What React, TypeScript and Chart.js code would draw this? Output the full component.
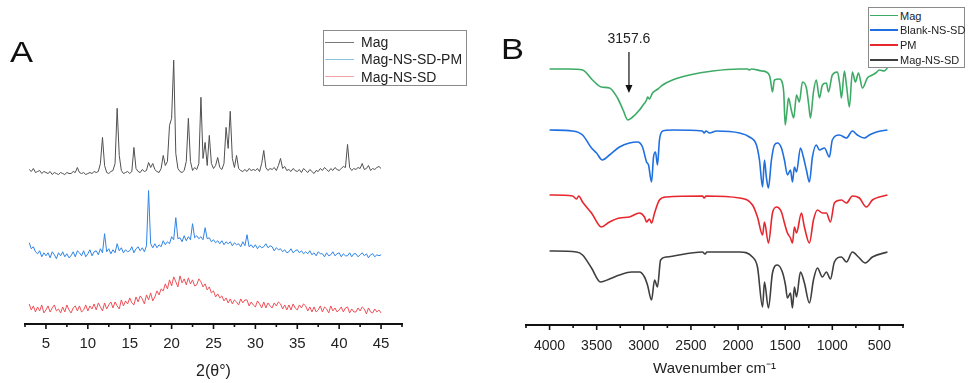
import React, { useEffect, useRef } from "react";
import { Chart, registerables } from "chart.js";
Chart.register(...registerables);

const FONT = '"Liberation Sans", Arial, Helvetica, sans-serif';

// ---------- Panel A : XRD ----------
const twoTheta = [
  3, 3.25, 3.5, 3.75, 4, 4.25, 4.5, 4.75, 5, 5.25, 5.5, 5.75, 6, 6.25, 6.5, 6.75,
  7, 7.25, 7.5, 7.75, 8, 8.25, 8.5, 8.75, 9, 9.25, 9.5, 9.75, 10, 10.25, 10.5, 10.75,
  11, 11.25, 11.5, 11.75, 12, 12.25, 12.5, 12.75, 13, 13.25, 13.5, 13.75, 14, 14.25, 14.5, 14.75,
  15, 15.25, 15.5, 15.75, 16, 16.25, 16.5, 16.75, 17, 17.25, 17.5, 17.75, 18, 18.25, 18.5, 18.75,
  19, 19.25, 19.5, 19.75, 20, 20.25, 20.5, 20.75, 21, 21.25, 21.5, 21.75, 22, 22.25, 22.5, 22.75,
  23, 23.25, 23.5, 23.75, 24, 24.25, 24.5, 24.75, 25, 25.25, 25.5, 25.75, 26, 26.25, 26.5, 26.75,
  27, 27.25, 27.5, 27.75, 28, 28.25, 28.5, 28.75, 29, 29.25, 29.5, 29.75, 30, 30.25, 30.5, 30.75,
  31, 31.25, 31.5, 31.75, 32, 32.25, 32.5, 32.75, 33, 33.25, 33.5, 33.75, 34, 34.25, 34.5, 34.75,
  35, 35.25, 35.5, 35.75, 36, 36.25, 36.5, 36.75, 37, 37.25, 37.5, 37.75, 38, 38.25, 38.5, 38.75,
  39, 39.25, 39.5, 39.75, 40, 40.25, 40.5, 40.75, 41, 41.25, 41.5, 41.75, 42, 42.25, 42.5, 42.75,
  43, 43.25, 43.5, 43.75, 44, 44.25, 44.5, 44.75, 45,
];

// stacked intensities (a.u.)
const xrdMag = [
  154, 152, 155, 151, 152, 153, 150, 152, 151, 150, 152, 149, 151, 150, 149, 151,
  150, 149, 151, 150, 150, 152, 151, 156, 151, 150, 151, 149, 150, 151, 150, 152,
  151, 152, 160, 186, 158, 151, 150, 152, 153, 160, 215, 168, 153, 150, 151, 152,
  150, 152, 176, 155, 152, 151, 154, 152, 153, 161, 156, 160, 154, 152, 151, 155,
  168, 158, 162, 198, 205, 263, 170, 155, 152, 151, 153, 162, 205, 162, 153, 156,
  154, 160, 226, 165, 181, 158, 188, 160, 155, 158, 166, 156, 154, 160, 196, 175,
  212, 165, 156, 168, 155, 153, 152, 154, 152, 155, 153, 154, 153, 155, 152, 160,
  173, 156, 153, 155, 154, 156, 153, 158, 165, 155, 157, 153, 154, 152, 155, 153,
  152, 154, 151, 155, 153, 151, 154, 152, 150, 153, 152, 155, 153, 156, 154, 152,
  155, 153, 156, 154, 153, 155, 157, 156, 179, 156, 153, 155, 154, 156, 155, 160,
  154, 155, 158, 153, 155, 154, 156, 157, 155,
];
const xrdPM = [
  81, 75, 77, 72, 70, 73, 67, 71, 68, 71, 66, 72, 69, 65, 71, 68,
  72, 67, 70, 66, 68, 72, 67, 73, 71, 68, 73, 67, 70, 74, 68, 72,
  73, 69, 75, 71, 90, 72, 75, 70, 74, 71, 80, 73, 76, 71, 74, 72,
  73, 77, 71, 75, 77, 73, 76, 72, 78, 133, 80, 76, 80, 76, 79, 77,
  83, 79, 82, 80, 87, 84, 106, 85, 86, 82, 88, 83, 87, 84, 100, 86,
  88, 85, 87, 84, 96, 85, 86, 82, 84, 81, 83, 80, 83, 79, 82, 80,
  82, 78, 81, 79, 80, 77, 82, 78, 89, 77, 79, 76, 79, 75, 78, 76,
  77, 80, 76, 78, 77, 73, 76, 74, 75, 72, 74, 71, 72, 75, 71, 73,
  74, 71, 73, 70, 72, 70, 73, 69, 71, 68, 72, 70, 70, 67, 71, 68,
  69, 72, 68, 70, 71, 67, 70, 68, 68, 71, 67, 70, 70, 67, 69, 71,
  68, 70, 66, 69, 70, 67, 69, 68, 69,
];
const xrdSD = [
  20, 14, 18, 12, 17, 13, 19, 11, 14, 18, 12, 16, 19, 13, 15, 11,
  17, 12, 19, 14, 11, 16, 18, 13, 18, 12, 14, 19, 13, 18, 15, 20,
  14, 21, 17, 13, 21, 15, 19, 22, 16, 22, 18, 15, 24, 18, 23, 20,
  26, 21, 19, 27, 22, 28, 25, 20, 29, 24, 31, 23, 27, 33, 29, 35,
  33, 40, 35, 44, 38, 47, 42, 37, 48, 41, 45, 39, 46, 40, 44, 38,
  39, 45, 42, 37, 40, 34, 37, 31, 33, 27, 30, 26, 28, 23, 26, 21,
  25, 20, 24, 22, 19, 25, 21, 24, 24, 18, 22, 19, 17, 23, 20, 16,
  22, 16, 21, 18, 16, 21, 18, 22, 20, 15, 19, 14, 19, 14, 20, 16,
  14, 19, 16, 20, 18, 13, 17, 12, 17, 12, 14, 18, 12, 17, 15, 11,
  18, 13, 16, 12, 14, 17, 12, 16, 17, 11, 15, 12, 12, 16, 13, 17,
  15, 10, 16, 12, 11, 15, 12, 14, 11,
];
const xrdNames = ["Mag", "Mag-NS-SD-PM", "Mag-NS-SD"];
const xrdColors = ["#505050", "#2f84e6", "#ee5058"];
const xrdLegendColors = ["#777777", "#8cc3dd", "#f2a2a4"];

// ---------- Panel B : FTIR ----------
const magWn = [4000, 3800, 3650, 3544, 3450, 3364, 3279, 3220, 3170, 3130, 3046, 3000, 2990, 2971, 2960, 2940, 2908, 2850, 2800, 2696, 2515, 2270, 1985, 1900, 1879, 1860, 1750, 1700, 1665, 1656, 1635, 1614, 1560, 1530, 1515, 1500, 1480, 1465, 1435, 1410, 1380, 1350, 1317, 1275, 1250, 1232, 1200, 1170, 1137, 1105, 1063, 1041, 1000, 946, 920, 903, 872, 850, 819, 787, 755, 723, 680, 628, 575, 540, 500, 450, 415];
const magT = [256, 256, 255, 245, 238, 237, 227, 215, 205, 207, 215, 221, 222, 225, 228, 226, 232, 236, 240, 245, 250, 254, 256, 256, 255, 256, 254, 253, 249, 245, 233, 245, 246, 242, 232, 200, 215, 227, 215, 207, 230, 223, 243, 237, 220, 207, 233, 245, 227, 240, 242, 233, 250, 253, 240, 227, 254, 240, 218, 253, 243, 252, 237, 247, 250, 252, 255, 254, 257];

const blankWn = [4000, 3756, 3650, 3555, 3502, 3440, 3364, 3258, 3152, 3067, 3014, 2971, 2950, 2918, 2897, 2876, 2855, 2834, 2800, 2696, 2378, 2360, 2340, 2303, 2230, 1985, 1879, 1805, 1773, 1740, 1720, 1700, 1678, 1646, 1614, 1582, 1540, 1508, 1476, 1444, 1423, 1402, 1380, 1338, 1307, 1275, 1243, 1211, 1170, 1137, 1084, 1031, 1000, 925, 850, 787, 734, 660, 607, 532, 415];
const blankT = [195, 194, 190, 177, 172, 165, 170, 178, 182, 183, 178, 163, 160, 143, 168, 173, 160, 185, 194, 195, 194, 192, 194, 192, 194, 192, 188, 180, 165, 138, 165, 148, 137, 165, 180, 182, 177, 165, 150, 155, 143, 158, 153, 177, 168, 155, 143, 168, 180, 175, 177, 168, 185, 190, 187, 194, 190, 187, 190, 193, 195];

const pmWn = [4000, 3756, 3714, 3690, 3650, 3555, 3450, 3364, 3258, 3152, 3046, 2993, 2971, 2940, 2918, 2886, 2834, 2760, 2378, 2360, 2340, 1985, 1847, 1794, 1740, 1720, 1678, 1635, 1593, 1540, 1508, 1476, 1444, 1423, 1402, 1380, 1328, 1296, 1243, 1200, 1158, 1105, 1063, 1020, 978, 903, 850, 787, 713, 638, 575, 415];
const pmT = [130, 129, 126, 129, 123, 112, 98, 103, 107, 108, 112, 108, 103, 106, 102, 112, 125, 128, 129, 127, 129, 127, 120, 108, 90, 103, 82, 112, 118, 113, 102, 92, 87, 82, 98, 92, 112, 98, 82, 105, 115, 112, 112, 103, 122, 125, 122, 129, 127, 118, 125, 130];

const sdWn = [4000, 3714, 3650, 3555, 3460, 3364, 3258, 3130, 3046, 2993, 2961, 2918, 2886, 2855, 2822, 2760, 2378, 2350, 2330, 1985, 1847, 1794, 1740, 1720, 1678, 1635, 1582, 1530, 1497, 1476, 1444, 1423, 1402, 1380, 1338, 1296, 1243, 1200, 1158, 1105, 1063, 1020, 978, 903, 850, 787, 723, 649, 575, 415];
const sdT = [74, 73, 70, 57, 43, 46, 50, 53, 53, 48, 40, 25, 45, 38, 65, 68, 73, 71, 73, 73, 68, 58, 18, 43, 17, 52, 60, 53, 40, 27, 32, 17, 38, 28, 53, 42, 22, 45, 57, 48, 53, 46, 63, 68, 63, 73, 68, 62, 68, 73];

const ftirNames = ["Mag", "Blank-NS-SD", "PM", "Mag-NS-SD"];
const ftirColors = ["#3dab66", "#1f6fe0", "#e8262d", "#3f3f3f"];

const annotWn = 3157.6;
const annotLabel = "3157.6";
const annotArrowFrom = 273;
const annotArrowTo = 232;
const annotTextAt = 286;

const pts = (xs: number[], ys: number[]) => xs.map((x, i) => ({ x, y: ys[i] }));

function tickPlugin(majorEvery: number) {
  return {
    id: "customTicks",
    afterDraw(chart: any) {
      const s = chart.scales.x;
      const ctx = chart.ctx;
      const y0 = chart.chartArea.bottom;
      ctx.save();
      ctx.strokeStyle = "#111";
      ctx.lineWidth = 1.6;
      s.ticks.forEach((t: any) => {
        const x = s.getPixelForValue(t.value);
        const r = t.value / majorEvery;
        const major = Math.abs(r - Math.round(r)) < 1e-6;
        const len = major ? 5 : 3;
        ctx.beginPath();
        ctx.moveTo(x, y0);
        ctx.lineTo(x, y0 + len);
        ctx.stroke();
      });
      ctx.restore();
    },
  };
}

const arrowPlugin = {
  id: "arrowAnnot",
  afterDraw(chart: any) {
    const ctx = chart.ctx;
    const x = chart.scales.x.getPixelForValue(annotWn);
    const ys = chart.scales.y;
    const y1 = ys.getPixelForValue(annotArrowFrom);
    const y2 = ys.getPixelForValue(annotArrowTo);
    const yt = ys.getPixelForValue(annotTextAt);
    ctx.save();
    ctx.strokeStyle = "#111";
    ctx.fillStyle = "#111";
    ctx.lineWidth = 1.2;
    ctx.beginPath();
    ctx.moveTo(x, y1);
    ctx.lineTo(x, y2 - 7);
    ctx.stroke();
    ctx.beginPath();
    ctx.moveTo(x - 3.5, y2 - 8);
    ctx.lineTo(x + 3.5, y2 - 8);
    ctx.lineTo(x, y2);
    ctx.closePath();
    ctx.fill();
    ctx.font = `14px ${FONT}`;
    ctx.fillStyle = "#222";
    ctx.textAlign = "center";
    ctx.textBaseline = "middle";
    ctx.fillText(annotLabel, x, yt);
    ctx.restore();
  },
};

export default function App() {
  const refA = useRef<HTMLCanvasElement | null>(null);
  const refB = useRef<HTMLCanvasElement | null>(null);

  useEffect(() => {
    const xrdSeries = [xrdMag, xrdPM, xrdSD];
    const chartA = new Chart(refA.current as HTMLCanvasElement, {
      type: "line",
      data: {
        datasets: xrdSeries.map((ys, i) => ({
          label: xrdNames[i],
          data: pts(twoTheta, ys),
          borderColor: xrdColors[i],
          borderWidth: 1,
          pointRadius: 0,
          tension: 0,
          fill: false,
        })),
      },
      options: {
        animation: false,
        responsive: false,
        events: [],
        layout: { padding: { left: 25, right: 88, top: 10, bottom: 1.4 } },
        plugins: { legend: { display: false }, tooltip: { enabled: false } },
        scales: {
          x: {
            type: "linear",
            min: 2.5,
            max: 47.5,
            ticks: {
              stepSize: 2.5,
              autoSkip: false,
              maxRotation: 0,
              padding: 6,
              color: "#222",
              font: { family: FONT, size: 15 },
              callback: (v: any) => (Number(v) % 5 === 0 ? String(v) : ""),
            },
            grid: { display: true, drawOnChartArea: false, drawTicks: true, tickLength: 5, tickColor: "rgba(0,0,0,0)" },
            border: { display: true, color: "#111", width: 2 },
            title: { display: true, text: "2(θ°)", color: "#222", font: { family: FONT, size: 16 }, padding: { top: 3.4, bottom: 0 } },
          },
          y: { display: false, min: 0, max: 313 },
        },
      },
      plugins: [tickPlugin(5)],
    } as any);

    const ftirSeries = [pts(magWn, magT), pts(blankWn, blankT), pts(pmWn, pmT), pts(sdWn, sdT)];
    const chartB = new Chart(refB.current as HTMLCanvasElement, {
      type: "line",
      data: {
        datasets: ftirSeries.map((d, i) => ({
          label: ftirNames[i],
          data: d,
          borderColor: ftirColors[i],
          borderWidth: 1.6,
          pointRadius: 0,
          cubicInterpolationMode: "monotone",
          fill: false,
        })),
      },
      options: {
        animation: false,
        responsive: false,
        events: [],
        layout: { padding: { left: 36, right: 73, top: 10, bottom: 5 } },
        plugins: { legend: { display: false }, tooltip: { enabled: false } },
        scales: {
          x: {
            type: "linear",
            reverse: true,
            min: 250,
            max: 4250,
            ticks: {
              stepSize: 250,
              autoSkip: false,
              maxRotation: 0,
              padding: 8,
              color: "#222",
              font: { family: FONT, size: 14 },
              callback: (v: any) => (Number(v) % 500 === 0 ? String(v) : ""),
            },
            grid: { display: true, drawOnChartArea: false, drawTicks: true, tickLength: 5, tickColor: "rgba(0,0,0,0)" },
            border: { display: true, color: "#111", width: 2 },
            title: { display: true, text: "Wavenumber cm⁻¹", color: "#222", font: { family: FONT, size: 15 }, padding: { top: -2.8, bottom: 0 } },
          },
          y: { display: false, min: 0, max: 315 },
        },
      },
      plugins: [tickPlugin(500), arrowPlugin],
    } as any);

    return () => {
      chartA.destroy();
      chartB.destroy();
    };
  }, []);

  const legendRow = (name: string, color: string, top: number, lineLeft: number, lineW: number, textLeft: number, size: number, lw: number) => (
    <div key={name} style={{ position: "absolute", left: 0, top, width: "100%", height: 16 }}>
      <div style={{ position: "absolute", left: lineLeft, top: 8 - lw / 2, width: lineW, height: lw, background: color }} />
      <div style={{ position: "absolute", left: textLeft, top: 0, lineHeight: "16px", fontSize: size, color: "#222", whiteSpace: "nowrap" }}>{name}</div>
    </div>
  );

  const bigLetter = { position: "absolute" as const, fontSize: 30, lineHeight: "30px", color: "#111", transform: "scaleX(1.15)", transformOrigin: "left top" };

  return (
    <div style={{ position: "fixed", left: 0, top: 0, width: 976, height: 383, background: "#fff", overflow: "hidden", fontFamily: FONT }}>
      <canvas ref={refA} width={490} height={383} style={{ position: "absolute", left: 0, top: 0, width: 490, height: 383 }} />
      <canvas ref={refB} width={486} height={383} style={{ position: "absolute", left: 490, top: 0, width: 486, height: 383 }} />
      <div style={{ ...bigLetter, left: 10, top: 37 }}>A</div>
      <div style={{ ...bigLetter, left: 501, top: 34 }}>B</div>
      <div style={{ position: "absolute", left: 323, top: 30, width: 144, height: 56, border: "1px solid #8a8a8a", boxSizing: "border-box", background: "#fff" }}>
        {xrdNames.map((n, i) => legendRow(n, xrdLegendColors[i], 3 + i * 17.3, 1, 29, 37, 14, 1))}
      </div>
      <div style={{ position: "absolute", left: 868, top: 7, width: 97, height: 61, border: "1px solid #8a8a8a", boxSizing: "border-box", background: "#fff" }}>
        {ftirNames.map((n, i) => legendRow(n, ftirColors[i], -0.5 + i * 14.9, 1, 28, 31, 11, 1.8))}
      </div>
    </div>
  );
}
